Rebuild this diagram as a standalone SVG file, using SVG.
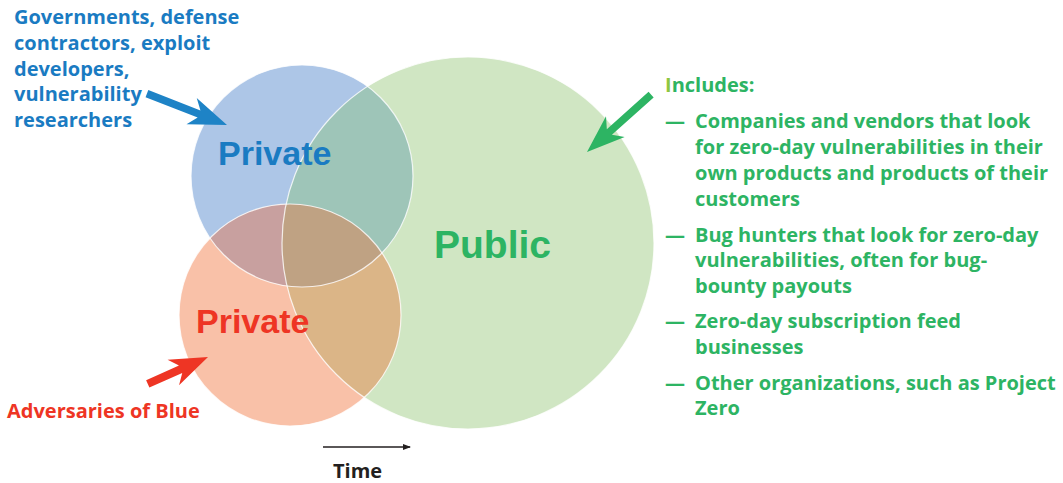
<svg xmlns="http://www.w3.org/2000/svg" width="1063" height="483" viewBox="0 0 1063 483">
<defs>
<style>
text{font-family:"Open Sans","Liberation Sans",Arial,sans-serif;font-weight:bold}
.bl{fill:#1a7bc2}.rd{fill:#ee3524}.gr{fill:#2db463}
.lbl{font-size:20px}
.big{font-size:34px;font-family:"Liberation Sans",Arial,sans-serif}
.edge{fill:none;stroke:#ffffff;stroke-width:1.2;stroke-opacity:0.8}
</style>
<clipPath id="cB"><circle cx="302" cy="176" r="111"/></clipPath>
<clipPath id="cR"><circle cx="290" cy="315" r="111"/></clipPath>
<clipPath id="cG"><circle cx="468" cy="243" r="186"/></clipPath>
<marker id="ah" markerWidth="8" markerHeight="6" refX="7" refY="3" orient="auto" markerUnits="userSpaceOnUse"><path d="M0,0 L8,3 L0,6 Z" fill="#231f20"/></marker>
<polygon id="arr" points="0,0 -38,-14 -30,-3.8 -86,-3.8 -86,3.8 -30,3.8 -38,14"/>
</defs>
<rect width="1063" height="483" fill="#ffffff"/>
<g id="venn">
<circle cx="468" cy="243" r="186" fill="#d0e6c3"/>
<circle cx="302" cy="176" r="111" fill="#adc6e7"/>
<circle cx="290" cy="315" r="111" fill="#f9c1a8"/>
<g clip-path="url(#cG)"><circle cx="302" cy="176" r="111" fill="#9ec5b8"/><circle cx="290" cy="315" r="111" fill="#dbb587"/></g>
<g clip-path="url(#cB)"><circle cx="290" cy="315" r="111" fill="#c8a09f"/></g>
<g clip-path="url(#cB)"><g clip-path="url(#cR)"><circle cx="468" cy="243" r="186" fill="#bfa283"/></g></g>
<circle class="edge" cx="468" cy="243" r="186"/>
<circle class="edge" cx="290" cy="315" r="111"/>
<circle class="edge" cx="302" cy="176" r="111" stroke-opacity="0.4"/>
</g>
<g id="node-private-blue"><text class="bl big" x="218" y="165">Private</text></g>
<g id="node-private-red"><text class="rd big" x="196" y="333">Private</text></g>
<g id="node-public"><text class="gr big" x="434" y="258" style="font-size:39px">Public</text></g>
<g id="node-gov-label">
<text class="bl lbl" x="14"><tspan x="14" y="24">Governments, defense</tspan><tspan x="14" y="50">contractors, exploit</tspan><tspan x="14" y="76">developers,</tspan><tspan x="14" y="101">vulnerability</tspan><tspan x="14" y="127">researchers</tspan></text>
</g>
<g id="node-adv-label"><text class="rd lbl" x="7" y="418">Adversaries of Blue</text></g>
<g id="node-includes">
<text class="gr lbl" x="665" y="92"><tspan fill="#8dc63f">I</tspan>ncludes:</text>
<g class="gr lbl">
<text x="665" y="128">—</text><text x="695" y="128">Companies and vendors that look</text>
<text x="695" y="154">for zero-day vulnerabilities in their</text>
<text x="695" y="180">own products and products of their</text>
<text x="695" y="206">customers</text>
<text x="665" y="242">—</text><text x="695" y="242">Bug hunters that look for zero-day</text>
<text x="695" y="267">vulnerabilities, often for bug-</text>
<text x="695" y="293">bounty payouts</text>
<text x="665" y="328">—</text><text x="695" y="328">Zero-day subscription feed</text>
<text x="695" y="354">businesses</text>
<text x="665" y="390">—</text><text x="695" y="390">Other organizations, such as Project</text>
<text x="695" y="415">Zero</text>
</g>
</g>
<g id="connectors">
<use href="#arr" fill="#1e83c6" transform="translate(227,125) rotate(21.4)"/>
<use href="#arr" fill="#2db463" transform="translate(587,152) rotate(138.2)"/>
<g transform="translate(208,357) rotate(-24.1)"><polygon points="0,0 -38,-14 -30,-4 -66,-4 -66,4 -30,4 -38,14" fill="#ee3524"/></g>
<line x1="323" y1="447" x2="410" y2="447" stroke="#231f20" stroke-width="1.5" marker-end="url(#ah)"/>
</g>
<g id="node-time"><text x="333" y="478" font-size="20" fill="#231f20">Time</text></g>
</svg>
